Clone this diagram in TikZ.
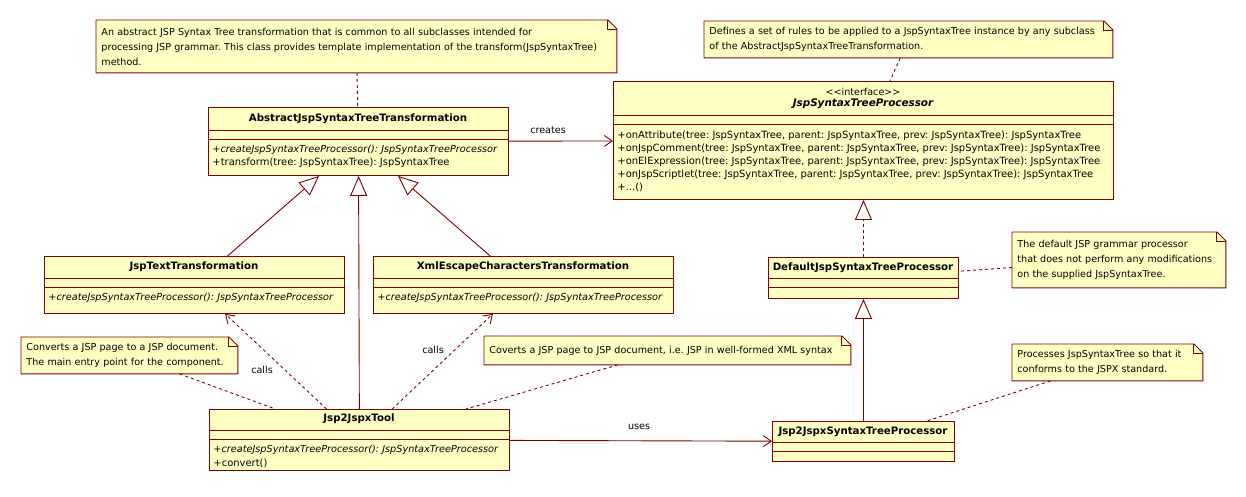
\documentclass[tikz,border=0pt]{standalone}
\usepackage{fontspec}
\setmainfont{DejaVu Sans}
\usetikzlibrary{arrows.meta}
\definecolor{umlred}{RGB}{128,0,0}
\definecolor{umlfill}{RGB}{255,255,196}
\frenchspacing

\begin{document}
\begin{tikzpicture}[
  x=1pt, y=-1pt,
  font=\fontsize{9.6}{13}\selectfont,
  line width=0.9pt,
  cls/.style={draw=umlred, fill=umlfill, inner sep=0pt, anchor=north west},
  cname/.style={font=\fontsize{10.2}{13}\selectfont\bfseries, inner sep=0pt},
  ops/.style={anchor=west, align=left, inner sep=0pt,
              font=\fontsize{9.95}{13}\selectfont},
  aops/.style={anchor=west, inner sep=0pt,
               font=\fontsize{9.7}{13}\selectfont\itshape},
  note/.style={fill=umlfill, anchor=north west, align=left, inner xsep=5pt,
               inner ysep=0pt, font=\fontsize{9.6}{15}\selectfont},
  lnk/.style={draw=umlred, dash pattern=on 3pt off 3pt},
  gen/.style={draw=umlred, -{Triangle[open, length=20pt, width=17pt]}},
  real/.style={gen, dash pattern=on 3pt off 3pt},
  dep/.style={lnk, -{Straight Barb[length=8pt, width=11pt]}},
  assoc/.style={draw=umlred, -{Straight Barb[length=8pt, width=11pt]}},
  lbl/.style={inner sep=1pt}
]
\useasboundingbox (0,0) rectangle (1246,496);

% classes
\node[cls, minimum width=300pt, minimum height=68pt] (abs) at (208,107) {};
\node[cls, minimum width=500pt, minimum height=118pt] (ifc) at (613,81) {};
\node[cls, minimum width=300pt, minimum height=57pt] (txt) at (44,256) {};
\node[cls, minimum width=300pt, minimum height=57pt] (xml) at (373,256) {};
\node[cls, minimum width=190pt, minimum height=41pt] (dflt) at (768,257) {};
\node[cls, minimum width=300pt, minimum height=61pt] (tool) at (209,409) {};
\node[cls, minimum width=182pt, minimum height=40pt] (sproc) at (772,421) {};

\foreach \c/\a/\b in {abs/23/32, ifc/34/43, txt/22/31, xml/22/31,
                      dflt/21/30, tool/21/30, sproc/21/30}
  \draw[umlred] ([yshift=-\a pt]\c.north west) -- ([yshift=-\a pt]\c.north east)
                ([yshift=-\b pt]\c.north west) -- ([yshift=-\b pt]\c.north east);

\node[cname] at (358,119) {AbstractJspSyntaxTreeTransformation};
\node[aops] at (212,150) {+createJspSyntaxTreeProcessor(): JspSyntaxTreeProcessor};
\node[ops] at (212,163) {+transform(tree: JspSyntaxTree): JspSyntaxTree};

\node[inner sep=0pt] at (863,92) {<\kern0pt<interface>\kern0pt>};
\node[cname, font=\fontsize{10.4}{13}\selectfont\bfseries\itshape] at (863,104)
  {JspSyntaxTreeProcessor};
\node[ops] at (617,161)
  {+onAttribute(tree: JspSyntaxTree, parent: JspSyntaxTree, prev: JspSyntaxTree): JspSyntaxTree\\
   +onJspComment(tree: JspSyntaxTree, parent: JspSyntaxTree, prev: JspSyntaxTree): JspSyntaxTree\\
   +onElExpression(tree: JspSyntaxTree, parent: JspSyntaxTree, prev: JspSyntaxTree): JspSyntaxTree\\
   +onJspScriptlet(tree: JspSyntaxTree, parent: JspSyntaxTree, prev: JspSyntaxTree): JspSyntaxTree\\
   +...()};

\node[cname] at (194,267) {JspTextTransformation};
\node[aops] at (48,298) {+createJspSyntaxTreeProcessor(): JspSyntaxTreeProcessor};

\node[cname] at (523,267) {XmlEscapeCharactersTransformation};
\node[aops] at (377,298) {+createJspSyntaxTreeProcessor(): JspSyntaxTreeProcessor};

\node[cname] at (863,268) {DefaultJspSyntaxTreeProcessor};

\node[cname] at (359,419) {Jsp2JspxTool};
\node[aops] at (213,450) {+createJspSyntaxTreeProcessor(): JspSyntaxTreeProcessor};
\node[ops] at (213,463) {+convert()};

\node[cname] at (863,432) {Jsp2JspxSyntaxTreeProcessor};

% notes
\node[note, text width=510pt, minimum height=52pt] (n1) at (96,20)
  {An abstract JSP Syntax Tree transformation that is common to all subclasses intended for\\
   processing JSP grammar. This class provides template implementation of the transform(JspSyntaxTree)\\
   method.};
\node[note, text width=398pt, minimum height=36pt] (n2) at (704,21)
  {Defines a set of rules to be applied to a JspSyntaxTree instance by any subclass\\
   of the AbstractJspSyntaxTreeTransformation.};
\node[note, text width=203pt, minimum height=55pt] (n3) at (1012,232)
  {The default JSP grammar processor\\
   that does not perform any modifications\\
   on the supplied JspSyntaxTree.};
\node[note, text width=206pt, minimum height=36pt] (n4) at (21,337)
  {Converts a JSP page to a JSP document.\\
   The main entry point for the component.};
\node[note, text width=356pt, minimum height=28pt] (n5) at (484,336)
  {Coverts a JSP page to JSP document, i.e. JSP in well-formed XML syntax};
\node[note, text width=180pt, minimum height=36pt] (n6) at (1012,344)
  {Processes JspSyntaxTree so that it\\
   conforms to the JSPX standard.};

\foreach \n in {n1,n2,n3,n4,n5,n6} {
  \fill[white] ([xshift=-9pt]\n.north east) -- (\n.north east)
    -- ([yshift=-9pt]\n.north east) -- cycle;
  \draw[umlred] (\n.north west) -- ([xshift=-9pt]\n.north east)
    -- ([yshift=-9pt]\n.north east) -- (\n.south east) -- (\n.south west) -- cycle;
  \draw[umlred] ([xshift=-9pt]\n.north east) |- ([yshift=-9pt]\n.north east);
}

% relations
\draw[gen] (txt) -- (abs);
\draw[gen] (xml) -- (abs);
\draw[gen] (tool) -- (abs);
\draw[real] (dflt) -- (ifc);
\draw[gen] (sproc) -- (dflt);
\draw[assoc] (abs) -- (ifc);
\draw[assoc] (tool) -- (sproc);
\draw[dep] (tool) -- (txt);
\draw[dep] (tool) -- (xml);

\node[lbl] at (548,130) {creates};
\node[lbl] at (639,427) {uses};
\node[lbl] at (262,370) {calls};
\node[lbl] at (433,350) {calls};

% note links
\draw[lnk] (n1) -- (abs);
\draw[lnk] (n2) -- (ifc);
\draw[lnk] (n3) -- (dflt);
\draw[lnk] (n4) -- (tool);
\draw[lnk] (n5) -- (tool);
\draw[lnk] (n6) -- (sproc);

\end{tikzpicture}
\end{document}
